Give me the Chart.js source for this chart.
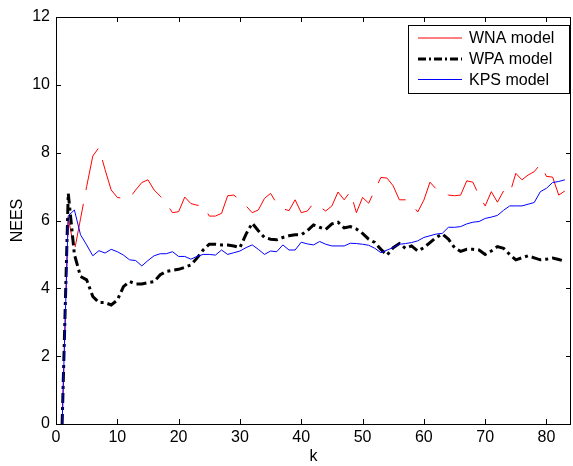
<!DOCTYPE html>
<html lang="es">
<head>
<meta charset="utf-8">
<title>NEES</title>
<script src="https://cdn.jsdelivr.net/npm/chart.js@4.4.1/dist/chart.umd.min.js"></script>
<style>
  html, body { margin: 0; padding: 0; background: #fff; }
  canvas { display: block; }
</style>
</head>
<body>
<canvas id="graficoNees" width="573" height="466"></canvas>
<script>
// ===================================
// DATOS
// ===================================
const pasos = [1, 2, 3, 4, 5, 6, 7, 8, 9, 10, 11, 12, 13, 14, 15, 16, 17, 18, 19, 20,
  21, 22, 23, 24, 25, 26, 27, 28, 29, 30, 31, 32, 33, 34, 35, 36, 37, 38, 39, 40,
  41, 42, 43, 44, 45, 46, 47, 48, 49, 50, 51, 52, 53, 54, 55, 56, 57, 58, 59, 60,
  61, 62, 63, 64, 65, 66, 67, 68, 69, 70, 71, 72, 73, 74, 75, 76, 77, 78, 79, 80,
  81, 82, 83];

const wna = [0, 6.1, 5.1, 6.05, 7.0, 7.9, 8.15, 7.5, 6.9, 6.68,
  6.65, 6.66, 6.9, 7.12, 7.2, 6.9, 6.72, 6.5, 6.23, 6.26,
  6.69, 6.5, 6.45, 6.45, 6.13, 6.13, 6.21, 6.73, 6.75, 6.6,
  6.43, 6.23, 6.31, 6.65, 6.8, 6.5, 6.35, 6.29, 6.61, 6.23,
  6.28, 6.51, 6.4, 6.28, 6.43, 6.84, 6.61, 6.85, 6.23, 6.68,
  6.51, 6.9, 7.27, 7.25, 7.02, 6.61, 6.61, 6.5, 6.25, 6.6,
  7.13, 6.93, 6.82, 6.75, 6.73, 6.75, 7.17, 7.13, 6.73, 6.43,
  6.85, 6.54, 6.87, 6.78, 7.39, 7.2, 7.34, 7.44, 7.66, 7.3,
  7.28, 6.75, 6.87];

const wpa = [0, 6.8, 5.0, 4.35, 4.25, 3.76, 3.58, 3.58, 3.51, 3.65,
  4.05, 4.2, 4.13, 4.13, 4.17, 4.2, 4.4, 4.5, 4.53, 4.56,
  4.62, 4.69, 4.89, 5.13, 5.3, 5.3, 5.28, 5.28, 5.25, 5.2,
  5.6, 5.92, 5.7, 5.5, 5.45, 5.43, 5.5, 5.55, 5.58, 5.58,
  5.7, 5.87, 5.8, 5.74, 5.9, 5.95, 5.78, 5.82, 5.75, 5.62,
  5.45, 5.35, 5.15, 4.98, 5.2, 5.32, 5.18, 5.25, 5.1, 5.2,
  5.35, 5.5, 5.6, 5.45, 5.2, 5.09, 5.15, 5.15, 5.13, 5.0,
  5.1, 5.23, 5.18, 5.0, 4.84, 4.9, 4.96, 4.9, 4.84, 4.86,
  4.89, 4.85, 4.8];

const kps = [0, 6.14, 6.31, 5.58, 5.28, 4.96, 5.11, 5.04, 5.15, 5.08,
  4.98, 4.84, 4.82, 4.66, 4.82, 4.96, 5.02, 5.02, 5.08, 4.94,
  4.94, 4.86, 4.94, 5.0, 5.0, 4.98, 5.13, 5.0, 5.05, 5.1,
  5.2, 5.28, 5.15, 5.0, 5.1, 5.08, 5.28, 5.13, 5.13, 5.36,
  5.31, 5.28, 5.38, 5.3, 5.25, 5.25, 5.25, 5.33, 5.32, 5.3,
  5.27, 5.18, 5.05, 5.13, 5.2, 5.3, 5.32, 5.35, 5.4, 5.5,
  5.55, 5.6, 5.62, 5.8, 5.8, 5.82, 5.9, 5.95, 5.97, 6.06,
  6.1, 6.15, 6.3, 6.43, 6.43, 6.43, 6.48, 6.53, 6.85, 6.95,
  7.12, 7.15, 7.2];

const ticksX = [0, 10, 20, 30, 40, 50, 60, 70, 80];
const ticksY = [0, 2, 4, 6, 8, 10, 12];

const nombresSeries = ['WNA model', 'WPA model', 'KPS model'];

// ===================================
// ESTILO
// ===================================
const FUENTE = "'Liberation Sans', Arial, Helvetica, sans-serif";
const TAM = 16;

function puntos(valores){
  return valores.map((v, i) => ({ x: pasos[i], y: v }));
}

// Marco tipo MATLAB con marcas hacia dentro en los cuatro lados
const marcoMatlab = {
  id: 'marcoMatlab',
  afterDatasetsDraw(chart){
    const { ctx, chartArea: a, scales: { x, y } } = chart;
    const L = 5;
    ctx.save();
    ctx.strokeStyle = '#000';
    ctx.lineWidth = 1;
    ctx.beginPath();
    ticksX.forEach(v => {
      const px = Math.round(x.getPixelForValue(v)) + 0.5;
      ctx.moveTo(px, a.bottom); ctx.lineTo(px, a.bottom - L);
      ctx.moveTo(px, a.top); ctx.lineTo(px, a.top + L);
    });
    ticksY.forEach(v => {
      const py = Math.round(y.getPixelForValue(v)) + 0.5;
      ctx.moveTo(a.left, py); ctx.lineTo(a.left + L, py);
      ctx.moveTo(a.right, py); ctx.lineTo(a.right - L, py);
    });
    ctx.stroke();
    ctx.strokeRect(Math.round(a.left) + 0.5, Math.round(a.top) + 0.5,
      Math.round(a.right - a.left) - 1, Math.round(a.bottom - a.top));
    ctx.restore();
  }
};

// Leyenda con caja en la esquina superior derecha
const leyendaCaja = {
  id: 'leyendaCaja',
  afterDraw(chart){
    const { ctx, chartArea: a } = chart;
    const w = 161, h = 68;
    const x0 = Math.round(a.right) - w - 2;
    const y0 = Math.round(a.top) + 8;
    const filas = [13, 34, 54.5];
    ctx.save();
    ctx.fillStyle = '#fff';
    ctx.fillRect(x0, y0, w, h);
    ctx.strokeStyle = '#000';
    ctx.lineWidth = 1;
    ctx.strokeRect(x0 + 0.5, y0 + 0.5, w, h);
    chart.data.datasets.forEach((ds, i) => {
      const yy = y0 + filas[i];
      ctx.save();
      ctx.strokeStyle = ds.borderColor;
      ctx.lineWidth = ds.borderWidth;
      ctx.setLineDash(ds.legendDash || []);
      ctx.beginPath();
      ctx.moveTo(x0 + 10, yy);
      ctx.lineTo(x0 + 54, yy);
      ctx.stroke();
      ctx.restore();
      ctx.fillStyle = '#000';
      ctx.font = TAM + 'px ' + FUENTE;
      ctx.textBaseline = 'middle';
      ctx.textAlign = 'left';
      ctx.fillText(ds.label, x0 + 61, yy + 1);
    });
    ctx.restore();
  }
};

// ===================================
// GRÁFICO
// ===================================
const ctx = document.getElementById('graficoNees').getContext('2d');
new Chart(ctx, {
  type: 'line',
  data: {
    datasets: [
      {
        label: nombresSeries[0],
        data: puntos(wna),
        borderColor: '#ff0000',
        borderWidth: 1,
        borderDash: [44, 14],
        borderDashOffset: 44.5,
        legendDash: [],
        order: 3
      },
      {
        label: nombresSeries[1],
        data: puntos(wpa),
        borderColor: '#000000',
        borderWidth: 3,
        borderDash: [10, 4, 3, 4],
        legendDash: [8, 3, 2, 3],
        order: 2
      },
      {
        label: nombresSeries[2],
        data: puntos(kps),
        borderColor: '#0000ff',
        borderWidth: 1,
        legendDash: [],
        order: 1
      }
    ]
  },
  options: {
    responsive: false,
    animation: false,
    devicePixelRatio: 1,
    elements: {
      point: { radius: 0 },
      line: { tension: 0, fill: false }
    },
    layout: { padding: { left: 0, right: 2, top: 17, bottom: 0 } },
    plugins: {
      legend: { display: false },
      tooltip: { enabled: false }
    },
    scales: {
      x: {
        type: 'linear',
        min: 0,
        max: 84,
        afterBuildTicks: s => { s.ticks = ticksX.map(v => ({ value: v })); },
        afterFit: s => { s.height = 42; },
        grid: { display: false, drawTicks: false },
        border: { display: false },
        ticks: {
          color: '#000',
          padding: 4,
          maxRotation: 0,
          autoSkip: false,
          font: { family: FUENTE, size: TAM }
        },
        title: {
          display: true,
          text: 'k',
          color: '#000',
          padding: { top: 0, bottom: 0 },
          font: { family: FUENTE, size: TAM }
        }
      },
      y: {
        type: 'linear',
        min: 0,
        max: 12,
        afterBuildTicks: s => { s.ticks = ticksY.map(v => ({ value: v })); },
        afterFit: s => { s.width = 56; },
        grid: { display: false, drawTicks: false },
        border: { display: false },
        ticks: {
          color: '#000',
          padding: 6,
          autoSkip: false,
          font: { family: FUENTE, size: TAM }
        },
        title: {
          display: true,
          text: 'NEES',
          color: '#000',
          padding: { top: 8, bottom: 0 },
          font: { family: FUENTE, size: TAM }
        }
      }
    }
  },
  plugins: [marcoMatlab, leyendaCaja]
});
</script>
</body>
</html>
